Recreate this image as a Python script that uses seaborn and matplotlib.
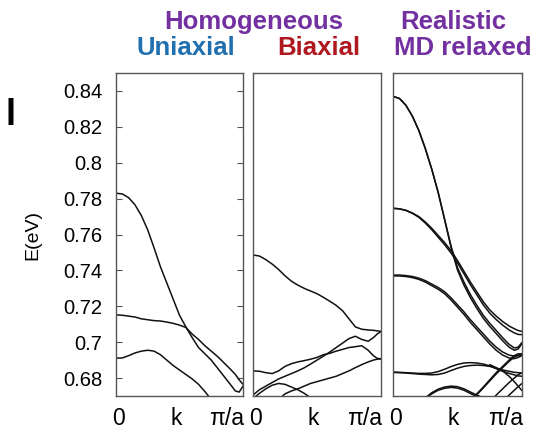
import numpy as np
import pandas as pd
import matplotlib.pyplot as plt
import seaborn as sns

# k along the zone, in units of pi/a
k_grid = [0, .05, .1, .15, .2, .25, .3, .35, .4, .45, .5, .55, .6, .65, .7, .75, .8, .85, .9, .94, .97, 1.0]

# homogeneous uniaxial
uni_1 = [0.783, 0.7826, 0.7805, 0.7765, 0.7705, 0.7625, 0.7525, 0.742, 0.733, 0.724, 0.715, 0.7085,
         0.7025, 0.697, 0.6935, 0.690, 0.6855, 0.681, 0.6765, 0.6728, 0.6722, 0.6755]
uni_2 = [0.7152, 0.715, 0.7145, 0.714, 0.713, 0.7125, 0.712, 0.7118, 0.7112, 0.7105, 0.7095, 0.7082,
         0.7045, 0.7015, 0.698, 0.695, 0.692, 0.6885, 0.685, 0.682, 0.679, 0.6765]
uni_3 = [0.6911, 0.6912, 0.6925, 0.694, 0.695, 0.6955, 0.695, 0.693, 0.690, 0.687, 0.6845, 0.682,
         0.6795, 0.6765, 0.6725, 0.668, 0.664, 0.660, 0.656, 0.653, 0.651, 0.649]

# homogeneous biaxial
bi_1 = [0.7486, 0.748, 0.746, 0.7435, 0.7405, 0.737, 0.734, 0.7318, 0.730, 0.7285, 0.727, 0.725,
        0.7228, 0.7205, 0.7175, 0.713, 0.7085, 0.7072, 0.7068, 0.7066, 0.7063, 0.706]
bi_2 = [0.684, 0.6838, 0.683, 0.6825, 0.684, 0.6865, 0.688, 0.689, 0.6897, 0.6905, 0.6915, 0.693,
        0.6938, 0.695, 0.696, 0.697, 0.6975, 0.698, 0.6955, 0.6925, 0.691, 0.6907]
bi_3 = [0.6705, 0.6735, 0.6755, 0.6775, 0.6795, 0.681, 0.6825, 0.684, 0.6857, 0.6878, 0.690, 0.6922,
        0.6945, 0.697, 0.6995, 0.702, 0.7033, 0.7015, 0.7005, 0.7025, 0.7045, 0.706]
bi_k4 = [0.2, 0.25, 0.3, 0.35, 0.4, 0.45, 0.5, 0.55, 0.6, 0.65, 0.7, 0.75, 0.8, 0.85, 0.9, 0.94, 0.97, 1.0]
bi_4 = [0.668, 0.6712, 0.6728, 0.674, 0.6755, 0.677, 0.678, 0.679, 0.680, 0.681, 0.6825, 0.684,
        0.6858, 0.6875, 0.689, 0.690, 0.6905, 0.6907]
bi_k5 = [0.0, 0.05, 0.1, 0.15, 0.2, 0.25, 0.3, 0.35, 0.4, 0.45]
bi_5 = [0.6685, 0.6715, 0.674, 0.676, 0.677, 0.6765, 0.675, 0.6735, 0.6715, 0.669]

# realistic MD relaxed (bands come in close pairs)
md_1a = [0.837, 0.8358, 0.832, 0.826, 0.818, 0.808, 0.7965, 0.7835, 0.7685, 0.7535, 0.7415, 0.7335,
         0.7265, 0.7205, 0.715, 0.7105, 0.7065, 0.7025, 0.6988, 0.6968, 0.6972, 0.6998]
md_1b = [0.837, 0.8358, 0.832, 0.826, 0.818, 0.808, 0.7965, 0.7835, 0.7683, 0.7528, 0.7402, 0.7318,
         0.7248, 0.7188, 0.7133, 0.7088, 0.7048, 0.7008, 0.6972, 0.6955, 0.6962, 0.6992]
md_2a = [0.7746, 0.7743, 0.7735, 0.772, 0.770, 0.767, 0.7635, 0.7595, 0.7555, 0.751, 0.7455, 0.7395,
         0.7335, 0.728, 0.7225, 0.718, 0.7145, 0.7115, 0.709, 0.7075, 0.7065, 0.706]
md_2b = [0.7746, 0.7743, 0.7734, 0.7718, 0.7696, 0.7664, 0.7627, 0.7585, 0.7543, 0.7497, 0.7442, 0.7381,
         0.732, 0.7264, 0.7208, 0.7162, 0.7126, 0.7095, 0.7068, 0.7052, 0.7043, 0.7042]
md_3a = [0.7369, 0.7369, 0.7366, 0.736, 0.735, 0.7335, 0.7315, 0.7295, 0.727, 0.7235, 0.7195, 0.7155,
         0.711, 0.707, 0.703, 0.699, 0.6955, 0.6928, 0.6912, 0.6908, 0.6915, 0.6925]
md_3b = [0.7374, 0.7374, 0.7371, 0.7366, 0.7357, 0.7343, 0.7324, 0.7305, 0.7281, 0.7247, 0.7208, 0.7169,
         0.7125, 0.7085, 0.7046, 0.7006, 0.6972, 0.6945, 0.6928, 0.6922, 0.6925, 0.693]
md_4a = [0.6831, 0.683, 0.6828, 0.6825, 0.6822, 0.682, 0.6818, 0.682, 0.6828, 0.6842, 0.6855, 0.6865,
         0.687, 0.6872, 0.687, 0.6865, 0.6855, 0.6845, 0.6838, 0.6832, 0.683, 0.6828]
md_4b = [0.6833, 0.6832, 0.683, 0.6828, 0.6826, 0.6826, 0.6828, 0.6836, 0.6849, 0.6864, 0.6876, 0.6884,
         0.6886, 0.6884, 0.6878, 0.6868, 0.6852, 0.6838, 0.6826, 0.6818, 0.6812, 0.681]
md_k5 = [0.25, 0.3, 0.35, 0.4, 0.45, 0.5, 0.55, 0.6, 0.65, 0.7]
md_5a = [0.669, 0.6718, 0.6738, 0.675, 0.6755, 0.6752, 0.674, 0.6722, 0.6705, 0.669]
md_5b = [0.6685, 0.6712, 0.6732, 0.6743, 0.6748, 0.6744, 0.6732, 0.6714, 0.6697, 0.668]
md_k6 = [0.6, 0.65, 0.7, 0.75, 0.8, 0.85, 0.9, 0.94, 0.97, 1.0]
md_6a = [0.668, 0.6712, 0.675, 0.679, 0.683, 0.6865, 0.690, 0.6925, 0.6935, 0.6935]
md_6b = [0.6675, 0.6707, 0.6745, 0.6784, 0.6823, 0.6858, 0.6893, 0.6917, 0.6928, 0.693]
md_k7 = [0.75, 0.8, 0.85, 0.9, 0.94, 0.97, 1.0]
md_7 = [0.6665, 0.6705, 0.674, 0.6775, 0.680, 0.6818, 0.683]
md_k8 = [0.85, 0.9, 0.94, 0.97, 1.0]
md_8 = [0.667, 0.6705, 0.6732, 0.6752, 0.677]
md_k9 = [0.75, 0.8, 0.85, 0.9, 0.94, 0.97, 1.0]
md_9 = [0.6875, 0.6858, 0.684, 0.681, 0.678, 0.6755, 0.673]

y_ticks = [0.68, 0.70, 0.72, 0.74, 0.76, 0.78, 0.80, 0.82, 0.84]
y_ticklabels = ["0.68", "0.7", "0.72", "0.74", "0.76", "0.78", "0.8", "0.82", "0.84"]
k_labels = ["0", "k", "\u03c0/a"]

panels = [
    [(k_grid, uni_1), (k_grid, uni_2), (k_grid, uni_3)],
    [(k_grid, bi_1), (k_grid, bi_2), (k_grid, bi_3), (bi_k4, bi_4), (bi_k5, bi_5)],
    [(k_grid, md_1a), (k_grid, md_1b), (k_grid, md_2a), (k_grid, md_2b),
     (k_grid, md_3a), (k_grid, md_3b), (k_grid, md_4a), (k_grid, md_4b),
     (md_k5, md_5a), (md_k5, md_5b), (md_k6, md_6a), (md_k6, md_6b),
     (md_k7, md_7), (md_k8, md_8), (md_k9, md_9)],
]

sns.set_theme(style="white")
plt.rcParams['font.family'] = ['Liberation Sans', 'DejaVu Sans']
plt.rcParams['text.color'] = 'black'
plt.rcParams['ytick.labelcolor'] = 'black'

W, H = 541, 432
fig = plt.figure(figsize=(W / 100, H / 100), dpi=100)

# panel boxes in pixels: left, right
boxes = [(116, 243), (253, 381), (393, 522)]
top, bottom = 73, 396

for i, (bands, (x0, x1)) in enumerate(zip(panels, boxes)):
    ax = fig.add_axes([x0 / W, 1 - bottom / H, (x1 - x0) / W, (bottom - top) / H])
    rows = []
    for b, (ks, es) in enumerate(bands):
        for kk, ee in zip(ks, es):
            rows.append((b, kk, ee))
    df = pd.DataFrame(rows, columns=["band", "k", "E"])
    sns.lineplot(data=df, x="k", y="E", units="band", estimator=None, sort=False,
                 color="#111111", lw=1.1, ax=ax, legend=False)
    ax.set_xlim(0, 1)
    ax.set_ylim(0.67, 0.85)
    ax.set_xlabel("")
    ax.set_ylabel("")
    ax.set_xticks([])
    for s in ax.spines.values():
        s.set_color("#555555")
        s.set_linewidth(1.0)
    if i == 0:
        ax.set_yticks(y_ticks)
        ax.set_yticklabels(y_ticklabels, fontsize=14.5, color="black")
        ax.tick_params(axis="y", direction="in", length=4.5, width=0.8, color="#555555",
                       left=True, right=True, pad=10)
    else:
        ax.set_yticks([])
    tr = ax.get_xaxis_transform()
    yl = -(425 - bottom) / (bottom - top)
    ax.text(0.02, yl, k_labels[0], transform=tr, ha="center", va="baseline", fontsize=16.5)
    ax.text(0.47, yl, k_labels[1], transform=tr, ha="center", va="baseline", fontsize=16.5)
    ax.text(1.01, yl, k_labels[2], transform=tr, ha="right", va="baseline", fontsize=16.5)

fig.text(33 / W, 1 - 235 / H, "E(eV)", rotation=90, ha="center", va="center", fontsize=14)
fig.text(5 / W, 1 - 125 / H, "l", fontsize=26, fontweight="bold", ha="left", va="baseline",
         color="black")

purple, blue, red = "#7230A0", "#2070B0", "#B01820"
fs_title = 18.5
fig.text(254 / W, 1 - 29 / H, "Homogeneous", color=purple, fontsize=fs_title, fontweight="bold",
         ha="center", va="baseline")
fig.text(453 / W, 1 - 29 / H, "Realistic", color=purple, fontsize=fs_title, fontweight="bold",
         ha="center", va="baseline")
fig.text(186 / W, 1 - 55 / H, "Uniaxial", color=blue, fontsize=fs_title, fontweight="bold",
         ha="center", va="baseline")
fig.text(319 / W, 1 - 55 / H, "Biaxial", color=red, fontsize=fs_title, fontweight="bold",
         ha="center", va="baseline")
fig.text(463 / W, 1 - 55 / H, "MD relaxed", color=purple, fontsize=fs_title, fontweight="bold",
         ha="center", va="baseline")

fig.savefig("out.png", dpi=100)
